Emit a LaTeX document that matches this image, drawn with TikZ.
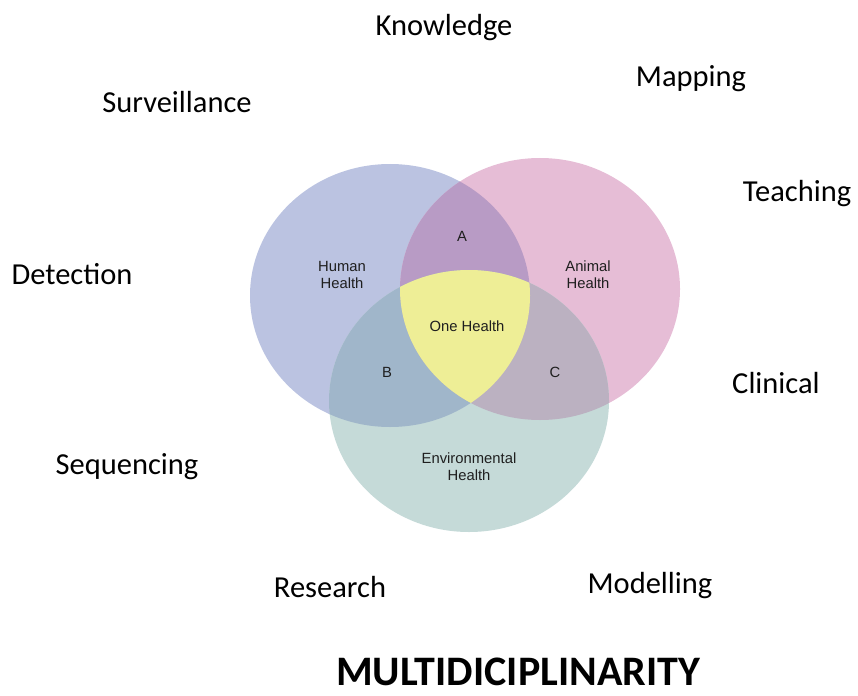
\documentclass[tikz,border=0pt]{standalone}
\usepackage{fontspec}
\setmainfont{Carlito}
\newfontfamily\vennfont{Liberation Sans}
\usetikzlibrary{positioning}

\definecolor{humancol}{HTML}{BBC3E1}
\definecolor{animalcol}{HTML}{E6BDD6}
\definecolor{envcol}{HTML}{C5DAD8}
\definecolor{hacol}{HTML}{B89BC5}
\definecolor{hecol}{HTML}{A0B6CA}
\definecolor{aecol}{HTML}{BBB1C1}
\definecolor{onecol}{HTML}{EEEE96}

\begin{document}
\begin{tikzpicture}[
  x=1pt,y=-1pt,
  kw/.style={font=\fontsize{30.5}{36}\selectfont,anchor=base,inner sep=0pt},
  vl/.style={font=\vennfont\fontsize{14.8}{17}\selectfont,text=black!88,
             align=center,inner sep=0pt},
  ltr/.style={vl,anchor=base},
  hd/.style={font=\bfseries\fontsize{42}{48}\selectfont,anchor=base,inner sep=0pt},
]
\useasboundingbox (0,0) rectangle (858,695);

\def\human{(390,295.5) ellipse [x radius=140pt,y radius=131.5pt]}
\def\animal{(540,289) ellipse [x radius=140pt,y radius=131pt]}
\def\envir{(469,401) ellipse [x radius=140pt,y radius=131pt]}

% the three circles
\fill[humancol] \human;
\fill[animalcol] \animal;
\fill[envcol] \envir;
% pairwise overlaps
\begin{scope}\clip \human; \fill[hacol] \animal; \end{scope}
\begin{scope}\clip \human; \fill[hecol] \envir; \end{scope}
\begin{scope}\clip \animal; \fill[aecol] \envir; \end{scope}
% centre
\begin{scope}\clip \human; \clip \animal; \fill[onecol] \envir; \end{scope}

% labels inside the diagram
\node[vl] (hh) at (342,275) {Human\\Health};
\node[vl] (ah) at (588,275) {Animal\\Health};
\node[vl] (eh) at (469,467) {Environmental\\Health};
\node[ltr] (oh) at (467,331) {One Health};
\node[ltr] (la) at (462,241) {A};
\node[ltr] (lb) at (387,377) {B};
\node[ltr] (lc) at (555,377) {C};

% disciplines around
\node[kw] (know) at (444,36)  {Knowledge};
\node[kw] (map)  at (691,87)  {Mapping};
\node[kw] (surv) at (177,113) {Surveillance};
\node[kw] (teach) at (797,201) {Teaching};
\node[kw] (det)  at (72,284)  {Detection};
\node[kw] (clin) at (776,393) {Clinical};
\node[kw] (seq)  at (127,474) {Sequencing};
\node[kw] (res)  at (330,597) {Research};
\node[kw] (mod)  at (650,593) {Modelling};

\node[hd] (multi) at (518,685) {MULTIDICIPLINARITY};
\end{tikzpicture}
\end{document}
